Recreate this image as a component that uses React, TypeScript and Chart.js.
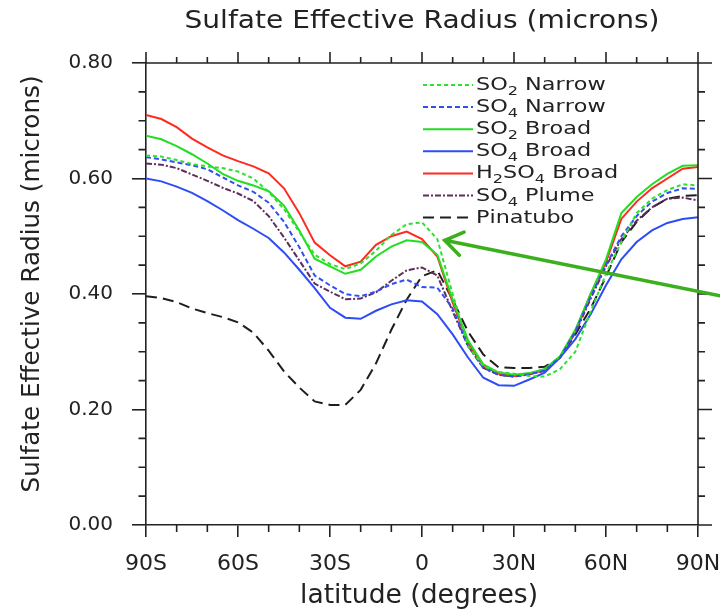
import React, { useEffect, useRef } from 'react';
import { Chart, registerables } from 'chart.js';

Chart.register(...registerables);

// ---------------- data ----------------
const latitudes = [
  -90, -85, -80, -75, -70, -65, -60, -55, -50, -45, -40, -35, -30, -25, -20, -15, -10, -5,
  0, 5, 10, 15, 20, 25, 30, 35, 40, 45, 50, 55, 60, 65, 70, 75, 80, 85, 90,
];

const so2Narrow = [
  0.640, 0.638, 0.632, 0.625, 0.621, 0.618, 0.612, 0.600, 0.577, 0.547, 0.507, 0.468, 0.452, 0.443, 0.453, 0.475, 0.502, 0.521,
  0.524, 0.495, 0.400, 0.310, 0.275, 0.265, 0.262, 0.258, 0.257, 0.270, 0.300, 0.370, 0.435, 0.490, 0.540, 0.565, 0.580, 0.590, 0.588,
];

const so4Narrow = [
  0.637, 0.633, 0.628, 0.623, 0.616, 0.602, 0.588, 0.577, 0.558, 0.525, 0.481, 0.432, 0.415, 0.400, 0.396, 0.404, 0.417, 0.425,
  0.412, 0.411, 0.375, 0.310, 0.272, 0.260, 0.257, 0.261, 0.267, 0.290, 0.335, 0.395, 0.450, 0.500, 0.535, 0.560, 0.575, 0.583, 0.582,
];

const so2Broad = [
  0.674, 0.668, 0.656, 0.642, 0.626, 0.608, 0.596, 0.588, 0.578, 0.553, 0.510, 0.461, 0.448, 0.435, 0.442, 0.465, 0.482, 0.493,
  0.490, 0.468, 0.390, 0.320, 0.278, 0.264, 0.260, 0.263, 0.270, 0.292, 0.338, 0.400, 0.460, 0.540, 0.568, 0.590, 0.608, 0.622, 0.623,
];

const so4Broad = [
  0.600, 0.595, 0.586, 0.575, 0.561, 0.545, 0.528, 0.513, 0.497, 0.472, 0.442, 0.410, 0.376, 0.359, 0.357, 0.371, 0.382, 0.389,
  0.387, 0.365, 0.330, 0.290, 0.255, 0.242, 0.241, 0.252, 0.264, 0.290, 0.322, 0.365, 0.415, 0.460, 0.490, 0.510, 0.523, 0.530, 0.533,
];

const h2so4Broad = [
  0.710, 0.703, 0.689, 0.669, 0.654, 0.640, 0.630, 0.621, 0.609, 0.583, 0.540, 0.489, 0.467, 0.448, 0.456, 0.485, 0.500, 0.508,
  0.495, 0.465, 0.385, 0.315, 0.275, 0.262, 0.258, 0.262, 0.268, 0.290, 0.335, 0.400, 0.455, 0.530, 0.560, 0.583, 0.600, 0.617, 0.620,
];

const so4Plume = [
  0.626, 0.624, 0.618, 0.607, 0.596, 0.584, 0.574, 0.561, 0.535, 0.498, 0.458, 0.418, 0.404, 0.391, 0.392, 0.403, 0.423, 0.441,
  0.446, 0.432, 0.370, 0.310, 0.272, 0.260, 0.257, 0.261, 0.267, 0.290, 0.333, 0.392, 0.448, 0.495, 0.527, 0.550, 0.565, 0.567, 0.562,
];

const pinatubo = [
  0.396, 0.393, 0.386, 0.375, 0.367, 0.360, 0.351, 0.333, 0.302, 0.266, 0.238, 0.214, 0.208, 0.208, 0.234, 0.280, 0.338, 0.390,
  0.431, 0.441, 0.390, 0.335, 0.295, 0.273, 0.272, 0.272, 0.274, 0.290, 0.330, 0.375, 0.430, 0.490, 0.525, 0.550, 0.565, 0.570, 0.571,
];

const seriesValues = [so2Narrow, so4Narrow, so2Broad, so4Broad, h2so4Broad, so4Plume, pinatubo];
const seriesNames = ['SO2 Narrow', 'SO4 Narrow', 'SO2 Broad', 'SO4 Broad', 'H2SO4 Broad', 'SO4 Plume', 'Pinatubo'];

const xTickValues = [-90, -60, -30, 0, 30, 60, 90];
const xTickLabels = ['90S', '60S', '30S', '0', '30N', '60N', '90N'];
const yTickValues = [0, 0.2, 0.4, 0.6, 0.8];
const yTickLabels = ['0.00', '0.20', '0.40', '0.60', '0.80'];

const chartTitle = 'Sulfate Effective Radius (microns)';
const yAxisTitle = 'Sulfate Effective Radius (microns)';
const xAxisTitle = 'latitude (degrees)';

// annotation arrow (latitude, value)
const arrowTail = [97.2, 0.397];
const arrowTip = [7.4, 0.493];

// ---------------- styles ----------------
const seriesColors = ['#2fe02f', '#3050f0', '#22dd22', '#2e4cf5', '#ff2a1f', '#5e2d5e', '#1e1e1e'];
const seriesDashes: number[][] = [[4, 3], [5, 3], [], [], [], [6, 2, 2, 2], [11, 6]];
const AXIS = '#222222';
const FONT = 'DejaVu Sans';

function drawStretched(ctx: CanvasRenderingContext2D, text: string, x: number, y: number, font: string, targetWidth: number) {
  ctx.font = font;
  const w = ctx.measureText(text).width;
  const sx = targetWidth / w;
  ctx.save();
  ctx.translate(x, y);
  ctx.scale(sx, 1);
  ctx.textAlign = 'center';
  ctx.textBaseline = 'alphabetic';
  ctx.fillText(text, 0, 0);
  ctx.restore();
}

function drawChemLabel(ctx: CanvasRenderingContext2D, text: string, x: number, baseline: number, sx: number) {
  ctx.save();
  ctx.translate(x, baseline);
  ctx.scale(sx, 1);
  ctx.textAlign = 'left';
  ctx.textBaseline = 'alphabetic';
  let cx = 0;
  for (const ch of text) {
    const isSub = ch >= '0' && ch <= '9';
    ctx.font = isSub ? `13px "${FONT}"` : `18px "${FONT}"`;
    ctx.fillText(ch, cx, isSub ? 5 : 0);
    cx += ctx.measureText(ch).width;
  }
  ctx.restore();
}

const decorPlugin = {
  id: 'decor',
  afterDraw(chart: any) {
    const { ctx, chartArea: a, scales } = chart;
    const xs = scales.x;
    const ys = scales.y;
    ctx.save();
    ctx.strokeStyle = AXIS;
    ctx.lineWidth = 1.6;
    ctx.setLineDash([]);
    // frame (top + right)
    ctx.beginPath();
    ctx.moveTo(a.left, a.top);
    ctx.lineTo(a.right, a.top);
    ctx.lineTo(a.right, a.bottom);
    ctx.stroke();
    // x ticks (top all, bottom minor)
    ctx.beginPath();
    for (let v = -90; v <= 90; v += 10) {
      const px = xs.getPixelForValue(v);
      const major = Math.abs(v % 30) === 0;
      ctx.moveTo(px, a.top);
      ctx.lineTo(px, a.top - (major ? 11 : 6));
      if (!major) {
        ctx.moveTo(px, a.bottom);
        ctx.lineTo(px, a.bottom + 7);
      }
    }
    // y ticks (right all, left minor)
    for (let i = 0; i <= 16; i++) {
      const py = ys.getPixelForValue(i * 0.05);
      const major = i % 4 === 0;
      ctx.moveTo(a.right, py);
      ctx.lineTo(a.right + (major ? 14 : 7), py);
      if (!major) {
        ctx.moveTo(a.left, py);
        ctx.lineTo(a.left - 7.5, py);
      }
    }
    ctx.stroke();

    // titles
    ctx.fillStyle = AXIS;
    const cxPlot = (a.left + a.right) / 2;
    drawStretched(ctx, chartTitle, cxPlot, 28, `25px "${FONT}"`, 475);
    drawStretched(ctx, xAxisTitle, cxPlot - 3, 603, `26px "${FONT}"`, 238);
    ctx.save();
    ctx.translate(39, 284);
    ctx.rotate(-Math.PI / 2);
    drawStretched(ctx, yAxisTitle, 0, 0, `24px "${FONT}"`, 417);
    ctx.restore();

    // legend
    const lx0 = a.left + 277;
    const lx1 = a.left + 327;
    const ly0 = a.top + 22;
    const step = 22.1;
    seriesNames.forEach((name, i) => {
      const y = ly0 + i * step;
      ctx.save();
      ctx.strokeStyle = seriesColors[i];
      ctx.lineWidth = 2;
      ctx.setLineDash(seriesDashes[i]);
      ctx.beginPath();
      ctx.moveTo(lx0, y);
      ctx.lineTo(lx1, y);
      ctx.stroke();
      ctx.restore();
      ctx.fillStyle = AXIS;
      drawChemLabel(ctx, name, lx1 + 3, y + 5, 1.24);
    });

    // arrow
    const tx = xs.getPixelForValue(arrowTail[0]);
    const ty = ys.getPixelForValue(arrowTail[1]);
    const hx = xs.getPixelForValue(arrowTip[0]);
    const hy = ys.getPixelForValue(arrowTip[1]);
    const ang = Math.atan2(ty - hy, tx - hx);
    const len = 21;
    ctx.strokeStyle = '#3cb01c';
    ctx.lineWidth = 3.5;
    ctx.lineCap = 'round';
    ctx.setLineDash([]);
    ctx.beginPath();
    ctx.moveTo(tx, ty);
    ctx.lineTo(hx, hy);
    ctx.moveTo(hx + len * Math.cos(ang - 0.6), hy + len * Math.sin(ang - 0.6));
    ctx.lineTo(hx, hy);
    ctx.lineTo(hx + len * Math.cos(ang + 0.6), hy + len * Math.sin(ang + 0.6));
    ctx.stroke();
    ctx.restore();
  },
};

export default function App() {
  const canvasRef = useRef<HTMLCanvasElement | null>(null);

  useEffect(() => {
    document.body.style.margin = '0';
    const canvas = canvasRef.current;
    if (!canvas) return;
    Chart.defaults.font.family = FONT;

    const datasets = seriesValues.map((vals, i) => ({
      label: seriesNames[i],
      data: latitudes.map((lat, j) => ({ x: lat, y: vals[j] })),
      borderColor: seriesColors[i],
      backgroundColor: seriesColors[i],
      borderWidth: 2,
      borderDash: seriesDashes[i],
      pointRadius: 0,
      tension: 0,
      fill: false,
    }));

    const chart = new Chart(canvas, {
      type: 'line',
      data: { datasets },
      options: {
        animation: false,
        responsive: false,
        maintainAspectRatio: false,
        layout: { padding: { left: 0, top: 63, right: 22, bottom: 0 } },
        plugins: {
          legend: { display: false },
          title: { display: false },
          tooltip: { enabled: false },
        },
        scales: {
          x: {
            type: 'linear',
            min: -90,
            max: 90,
            afterFit: (s: any) => { s.height = 85; s.paddingLeft = 0; s.paddingRight = 0; },
            afterBuildTicks: (s: any) => { s.ticks = xTickValues.map((v) => ({ value: v })); },
            grid: { display: true, drawOnChartArea: false, drawTicks: true, tickLength: 12, color: AXIS, lineWidth: 1.6 },
            border: { display: true, color: AXIS, width: 1.6 },
            ticks: {
              font: { family: FONT, size: 22 },
              color: AXIS,
              padding: 14,
              maxRotation: 0,
              autoSkip: false,
              callback: (v: any) => {
                const k = xTickValues.indexOf(Number(v));
                return k >= 0 ? xTickLabels[k] : '';
              },
            },
          },
          y: {
            type: 'linear',
            min: 0,
            max: 0.8,
            afterFit: (s: any) => { s.width = 146; s.paddingTop = 0; s.paddingBottom = 0; },
            afterBuildTicks: (s: any) => { s.ticks = yTickValues.map((v) => ({ value: v })); },
            grid: { display: true, drawOnChartArea: false, drawTicks: true, tickLength: 14, color: AXIS, lineWidth: 1.6 },
            border: { display: true, color: AXIS, width: 1.6 },
            ticks: {
              font: { family: FONT, size: 20 },
              color: AXIS,
              padding: 19,
              callback: (v: any) => {
                const k = yTickValues.findIndex((t) => Math.abs(t - Number(v)) < 1e-6);
                return k >= 0 ? yTickLabels[k] : '';
              },
            },
          },
        },
      },
      plugins: [decorPlugin],
    });

    return () => chart.destroy();
  }, []);

  return (
    <div style={{ width: 720, height: 610 }}>
      <canvas ref={canvasRef} width={720} height={610} style={{ display: 'block' }} />
    </div>
  );
}
